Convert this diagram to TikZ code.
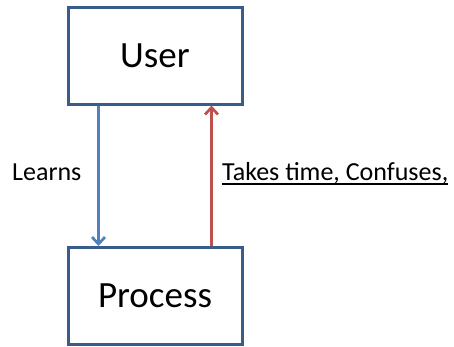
\documentclass[tikz,border=0pt]{standalone}
\usepackage{fontspec}
\setmainfont{Carlito}
\usetikzlibrary{arrows.meta}
\definecolor{boxline}{HTML}{385D8A}
\definecolor{learnblue}{HTML}{4F81BD}
\definecolor{costred}{HTML}{C0504D}
\begin{document}
\begin{tikzpicture}[x=1pt,y=-1pt,
  entity/.style={draw=boxline, line width=3pt, fill=white, minimum width=174pt,
    minimum height=97pt, inner sep=0pt, font=\fontsize{37}{44}\selectfont},
  flow/.style={line width=3pt, -{Straight Barb[length=7pt,width=13pt,line width=2.7pt]}},
  label/.style={inner sep=0pt, font=\fontsize{26}{31}\selectfont}]
\useasboundingbox (0,0) rectangle (454,346);
\node[entity] (user) at (155,55.5) {User};
\node[entity] (proc) at (155,296) {Process};
\coordinate (ls) at (98.5,0);
\coordinate (rs) at (211.5,0);
\draw[flow, learnblue] (user.south -| ls) -- (proc.north -| ls);
\draw[flow, costred] (proc.north -| rs) -- (user.south -| rs);
\node[label, anchor=base west] (learns) at (12,180) {Learns};
\node[label, anchor=base west] (cost) at (222,180) {Takes time, Confuses,};
% underline of the cost label
\draw[line width=2pt] ([yshift=-4pt]cost.base west) -- ([yshift=-4pt]cost.base east);
\end{tikzpicture}
\end{document}
